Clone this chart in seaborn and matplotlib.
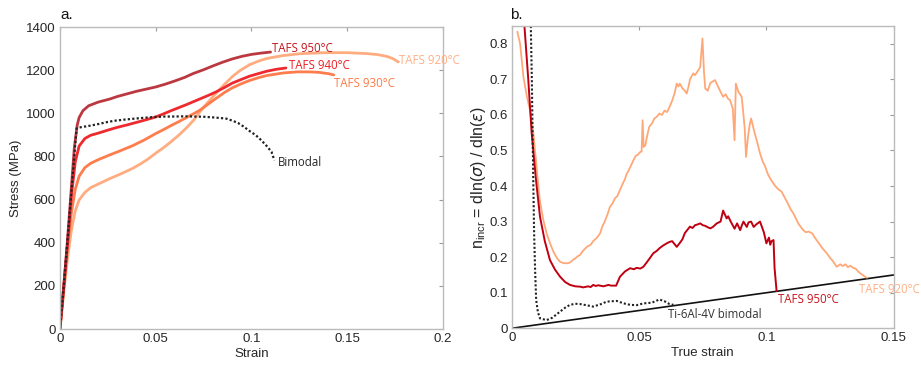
import numpy as np
import pandas as pd
import matplotlib
matplotlib.use("Agg")
import matplotlib.pyplot as plt
import seaborn as sns

# ---- panel a: engineering stress-strain curves ----
strain_950 = [0, 0.002, 0.004, 0.006, 0.0075, 0.009, 0.010, 0.012, 0.015, 0.02, 0.026,
              0.03, 0.035, 0.04, 0.045, 0.05, 0.055, 0.06, 0.065, 0.0695, 0.075, 0.08,
              0.085, 0.09, 0.095, 0.1, 0.105, 0.110]
stress_950 = [0, 200, 420, 660, 840, 945, 980, 1012, 1035, 1052, 1066,
              1078, 1090, 1102, 1112, 1122, 1135, 1150, 1166, 1184, 1202, 1220,
              1237, 1252, 1264, 1273, 1279, 1284]

strain_940 = [0, 0.002, 0.004, 0.006, 0.008, 0.010, 0.013, 0.016, 0.02, 0.025, 0.03,
              0.035, 0.04, 0.045, 0.05, 0.054, 0.058, 0.062, 0.066, 0.070, 0.074, 0.078,
              0.0817, 0.086, 0.09, 0.095, 0.099, 0.104, 0.108, 0.113, 0.118]
stress_940 = [0, 200, 400, 620, 775, 848, 883, 898, 908, 922, 935,
              946, 958, 970, 983, 997, 1012, 1026, 1040, 1055, 1070, 1085,
              1100, 1120, 1140, 1158, 1172, 1185, 1195, 1204, 1210]

strain_930 = [0, 0.002, 0.004, 0.006, 0.008, 0.010, 0.013, 0.016, 0.02, 0.026, 0.032,
              0.038, 0.044, 0.05, 0.054, 0.058, 0.062, 0.066, 0.070, 0.073, 0.077,
              0.0817, 0.086, 0.09, 0.095, 0.099, 0.104, 0.108, 0.1166, 0.124, 0.13,
              0.135, 0.14, 0.143]
stress_930 = [0, 190, 380, 540, 648, 708, 748, 768, 785, 807, 828,
              850, 876, 906, 924, 943, 961, 980, 999, 1014, 1040,
              1070, 1097, 1118, 1138, 1152, 1166, 1175, 1187, 1192, 1192,
              1190, 1184, 1178]

strain_920 = [0, 0.002, 0.004, 0.006, 0.008, 0.010, 0.013, 0.016, 0.02, 0.026, 0.032,
              0.038, 0.042, 0.046, 0.050, 0.054, 0.058, 0.062, 0.066, 0.070, 0.073,
              0.077, 0.0817, 0.086, 0.090, 0.094, 0.099, 0.104, 0.108, 0.116, 0.125,
              0.138, 0.150, 0.160, 0.166, 0.171, 0.174, 0.1767]
stress_920 = [0, 170, 330, 460, 548, 598, 633, 655, 672, 697, 720,
              745, 765, 788, 815, 840, 868, 898, 932, 970, 1006,
              1048, 1095, 1135, 1170, 1198, 1225, 1243, 1254, 1267, 1276,
              1281, 1281, 1277, 1272, 1263, 1253, 1238]

strain_bim = [0, 0.002, 0.004, 0.006, 0.008, 0.0087, 0.010, 0.012, 0.016, 0.02, 0.025,
              0.029, 0.035, 0.04, 0.045, 0.05, 0.055, 0.06, 0.065, 0.07, 0.075, 0.08,
              0.084, 0.087, 0.090, 0.093, 0.096, 0.099, 0.102, 0.104, 0.106, 0.108,
              0.1105, 0.112]
stress_bim = [0, 200, 420, 640, 860, 930, 934, 937, 943, 950, 960,
              966, 972, 976, 980, 983, 985, 985, 986, 985, 984, 981,
              978, 975, 966, 955, 938, 918, 900, 885, 867, 848,
              821, 782]

# ---- panel b: incremental strain-hardening exponent ----
tstrain_920 = [0.0022, 0.0033, 0.0046, 0.0060, 0.0072, 0.0085, 0.0098, 0.011, 0.0124, 0.0137,
               0.0150, 0.0164, 0.0177, 0.019, 0.0205, 0.022, 0.0229, 0.024, 0.025, 0.026,
               0.0268, 0.028, 0.0295, 0.031, 0.032, 0.0335, 0.0347, 0.0355, 0.0365, 0.0375,
               0.0386, 0.0395, 0.0405, 0.0415, 0.0425, 0.0435, 0.0445, 0.045, 0.046, 0.047,
               0.0478, 0.0487, 0.0495, 0.0505, 0.051, 0.0514, 0.0518, 0.0525, 0.053, 0.054,
               0.055, 0.056, 0.057, 0.058, 0.059, 0.060, 0.061, 0.062, 0.063, 0.064,
               0.0648, 0.0655, 0.066, 0.067, 0.068, 0.0687, 0.0695, 0.070, 0.0713, 0.072,
               0.0733, 0.074, 0.0749, 0.0755, 0.076, 0.077, 0.078, 0.0798, 0.081, 0.082,
               0.083, 0.084, 0.085, 0.0857, 0.0868, 0.0875, 0.0880, 0.089, 0.0903, 0.091,
               0.0915, 0.092, 0.0928, 0.0935, 0.094, 0.095, 0.0965, 0.0975, 0.0985, 0.0995,
               0.1005, 0.1014, 0.1025, 0.1035, 0.1045, 0.106, 0.107, 0.1085, 0.1095, 0.1106,
               0.1115, 0.1125, 0.1135, 0.1145, 0.1155, 0.1165, 0.118, 0.119, 0.1205, 0.122,
               0.1237, 0.125, 0.126, 0.1276, 0.129, 0.130, 0.131, 0.132, 0.133, 0.134,
               0.135, 0.136, 0.1368, 0.1378, 0.1387, 0.1395]
n_920 = [0.834, 0.800, 0.707, 0.650, 0.613, 0.548, 0.450, 0.361, 0.305, 0.267,
         0.240, 0.215, 0.198, 0.187, 0.183, 0.183, 0.185, 0.192, 0.197, 0.203,
         0.206, 0.218, 0.229, 0.235, 0.245, 0.255, 0.267, 0.285, 0.300, 0.318,
         0.342, 0.350, 0.365, 0.372, 0.389, 0.405, 0.420, 0.432, 0.445, 0.460,
         0.473, 0.485, 0.488, 0.496, 0.497, 0.585, 0.510, 0.515, 0.535, 0.567,
         0.575, 0.590, 0.595, 0.604, 0.600, 0.612, 0.608, 0.623, 0.640, 0.662,
         0.688, 0.680, 0.688, 0.675, 0.668, 0.660, 0.682, 0.700, 0.717, 0.712,
         0.726, 0.735, 0.815, 0.720, 0.674, 0.668, 0.690, 0.698, 0.680, 0.665,
         0.651, 0.658, 0.645, 0.642, 0.618, 0.529, 0.688, 0.665, 0.651, 0.600,
         0.560, 0.482, 0.540, 0.575, 0.590, 0.560, 0.520, 0.492, 0.470, 0.455,
         0.435, 0.422, 0.410, 0.400, 0.392, 0.384, 0.370, 0.350, 0.335, 0.323,
         0.310, 0.295, 0.285, 0.276, 0.270, 0.272, 0.267, 0.255, 0.240, 0.225,
         0.211, 0.198, 0.190, 0.173, 0.180, 0.175, 0.180, 0.172, 0.176, 0.170,
         0.168, 0.160, 0.155, 0.150, 0.145, 0.142]

tstrain_950 = [0.0050, 0.0065, 0.00785, 0.0095, 0.0111, 0.013, 0.015, 0.017, 0.019, 0.021,
               0.0229, 0.025, 0.027, 0.028, 0.030, 0.031, 0.032, 0.033, 0.034, 0.036,
               0.038, 0.039, 0.041, 0.0425, 0.0445, 0.0465, 0.048, 0.049, 0.0505, 0.0517,
               0.0535, 0.0556, 0.057, 0.058, 0.0595, 0.0609, 0.062, 0.063, 0.0648, 0.066,
               0.067, 0.068, 0.070, 0.071, 0.072, 0.073, 0.074, 0.075, 0.076, 0.077,
               0.078, 0.079, 0.0805, 0.082, 0.083, 0.0844, 0.085, 0.086, 0.0875, 0.0885,
               0.0897, 0.0905, 0.091, 0.0923, 0.093, 0.094, 0.095, 0.096, 0.0975, 0.0985,
               0.0990, 0.100, 0.101, 0.1015, 0.102, 0.1028, 0.1032, 0.104]
n_950 = [0.85, 0.70, 0.548, 0.420, 0.314, 0.245, 0.192, 0.165, 0.145, 0.130,
         0.122, 0.118, 0.117, 0.115, 0.118, 0.116, 0.122, 0.119, 0.121, 0.118,
         0.122, 0.120, 0.120, 0.145, 0.160, 0.169, 0.166, 0.170, 0.168, 0.173,
         0.190, 0.211, 0.218, 0.225, 0.233, 0.239, 0.243, 0.245, 0.229, 0.240,
         0.250, 0.268, 0.286, 0.282, 0.290, 0.292, 0.295, 0.290, 0.288, 0.284,
         0.281, 0.285, 0.295, 0.300, 0.331, 0.309, 0.315, 0.300, 0.280, 0.295,
         0.276, 0.292, 0.300, 0.285, 0.298, 0.300, 0.285, 0.292, 0.300, 0.280,
         0.270, 0.239, 0.255, 0.235, 0.245, 0.248, 0.170, 0.105]

tstrain_bim = [0.0075, 0.0079, 0.0082, 0.0085, 0.0088, 0.0092, 0.0096, 0.0103, 0.0111, 0.0137,
               0.016, 0.019, 0.021, 0.0229, 0.025, 0.027, 0.030, 0.032, 0.035, 0.0373,
               0.0412, 0.044, 0.0465, 0.049, 0.0517, 0.055, 0.058, 0.060, 0.062, 0.0635]
n_bim = [0.85, 0.70, 0.548, 0.400, 0.267, 0.160, 0.080, 0.045, 0.028, 0.023,
         0.030, 0.047, 0.058, 0.066, 0.069, 0.068, 0.064, 0.061, 0.068, 0.075,
         0.077, 0.070, 0.066, 0.065, 0.070, 0.072, 0.081, 0.076, 0.068, 0.066]

line_x = [0, 0.15]
line_y = [0, 0.15]

sns.set_theme(style="white")
plt.rcParams["font.family"] = ["Liberation Sans", "DejaVu Sans"]
plt.rcParams["mathtext.fontset"] = "dejavusans"

fig = plt.figure(figsize=(9.21, 3.69), dpi=100)
ax1 = fig.add_axes([0.0651, 0.1084, 0.4158, 0.8184])
ax2 = fig.add_axes([0.5556, 0.1103, 0.4148, 0.8192])

c950, c940, c930, c920 = "#b5222b", "#ee2a2f", "#ff7c4c", "#ffac80"

def draw(ax, x, y, color, lw, ls="-", alpha=1.0):
    df = pd.DataFrame({"x": x, "y": y})
    sns.lineplot(data=df, x="x", y="y", ax=ax, color=color, lw=lw, ls=ls,
                 sort=False, estimator=None, alpha=alpha)

draw(ax1, strain_920, stress_920, c920, 2.0)
draw(ax1, strain_930, stress_930, c930, 2.0)
draw(ax1, strain_940, stress_940, c940, 2.0)
draw(ax1, strain_950, stress_950, c950, 2.0, alpha=0.9)
draw(ax1, strain_bim, stress_bim, "#222222", 1.6, ls=(0, (1, 1)))

lab = dict(fontsize=8.3, family=["Open Sans", "DejaVu Sans"], va="center", ha="left")
ax1.text(0.1105, 1300, "TAFS 950°C", color="#c8141e", **lab)
ax1.text(0.1195, 1222, "TAFS 940°C", color="#ee1c24", **lab)
ax1.text(0.1430, 1138, "TAFS 930°C", color="#ff7a45", **lab)
ax1.text(0.1770, 1246, "TAFS 920°C", color="#ffb085", **lab)
ax1.text(0.1138, 774, "Bimodal", color="#262626", **lab)

ax1.set_xlim(0, 0.2)
ax1.set_ylim(0, 1400)
ax1.set_xticks([0, 0.05, 0.1, 0.15, 0.2])
ax1.set_xticklabels(["0", "0.05", "0.1", "0.15", "0.2"])
ax1.set_yticks(range(0, 1401, 200))
ax1.set_xlabel("Strain", fontsize=9.5, color="#262626", labelpad=2)
ax1.set_ylabel("Stress (MPa)", fontsize=9.5, color="#262626", labelpad=3)

draw(ax2, line_x, line_y, "#111111", 1.2)
draw(ax2, tstrain_920, n_920, "#ffa877", 1.3)
draw(ax2, tstrain_950, n_950, "#c00012", 1.4)
draw(ax2, tstrain_bim, n_bim, "#222222", 1.5, ls=(0, (1, 1)))

ax2.text(0.1045, 0.082, "TAFS 950°C", color="#c8141e", **lab)
ax2.text(0.1365, 0.108, "TAFS 920°C", color="#ffb085", **lab)
ax2.text(0.0615, 0.038, "Ti-6Al-4V bimodal", color="#333333", **lab)

ax2.set_xlim(0, 0.15)
ax2.set_ylim(0, 0.85)
ax2.set_xticks([0, 0.05, 0.1, 0.15])
ax2.set_xticklabels(["0", "0.05", "0.1", "0.15"])
ax2.set_yticks(np.round(np.arange(0, 0.81, 0.1), 1))
ax2.set_yticklabels(["0"] + [f"{v:.1f}" for v in np.arange(0.1, 0.81, 0.1)])
ax2.set_xlabel("True strain", fontsize=9.5, color="#262626", labelpad=2)
ax2.set_ylabel(r"n$_{\mathregular{incr}}$ = dln($\sigma$) / dln($\epsilon$)",
               fontsize=11.5, color="#262626", labelpad=1)

for ax in (ax1, ax2):
    for s in ax.spines.values():
        s.set_color("#bbbbbb")
        s.set_linewidth(1.0)
        s.set_visible(True)
    ax.tick_params(direction="in", length=3, width=0.8, color="#999999",
                   top=True, right=True, labelsize=9.5, labelcolor="#262626", pad=3)

fig.text(60 / 921, 1 - 15 / 369, "a.", fontsize=11, ha="left", va="center", color="#111111")
fig.text(510 / 921, 1 - 15 / 369, "b.", fontsize=11, ha="left", va="center", color="#111111")

fig.savefig("out.png", dpi=100)
